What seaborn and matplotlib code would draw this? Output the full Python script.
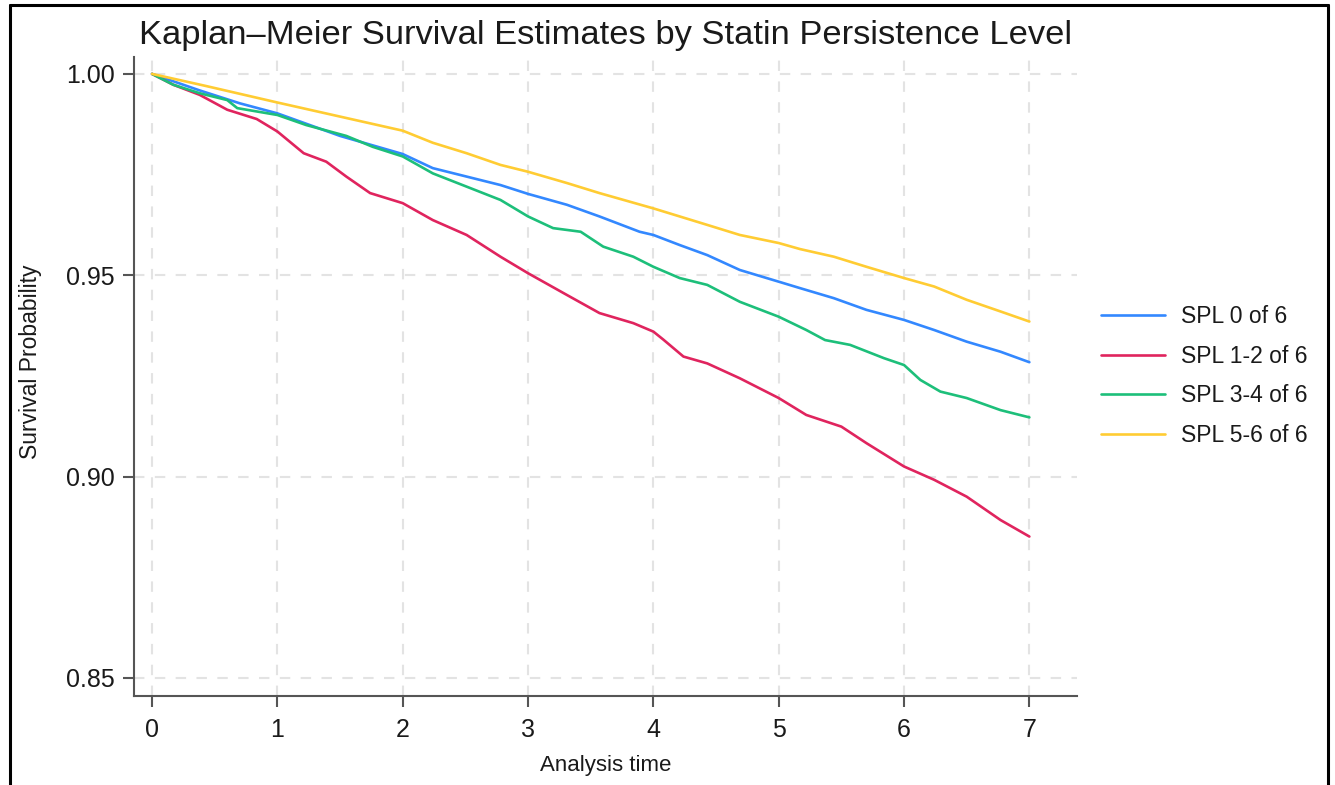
import matplotlib
matplotlib.use("Agg")
import matplotlib.pyplot as plt
from matplotlib.lines import Line2D
import seaborn as sns
import pandas as pd

# ---- data ----
groups = ["SPL 0 of 6", "SPL 1-2 of 6", "SPL 3-4 of 6", "SPL 5-6 of 6"]
colors = ["#3388FF", "#E0245E", "#1DBF7A", "#FFCC33"]

t_spl0 = [0, 0.38, 0.70, 1.0, 1.5, 2.0, 2.24, 2.51, 2.78, 3.0, 3.31, 3.57, 3.89, 4.0, 4.21,
          4.43, 4.69, 5.0, 5.17, 5.44, 5.7, 6.0, 6.24, 6.5, 6.77, 7.0]
s_spl0 = [1.0, 0.9959, 0.9927, 0.9902, 0.9846, 0.9801, 0.9766, 0.9745, 0.9724, 0.9702, 0.9675,
          0.9646, 0.9608, 0.9600, 0.9575, 0.9550, 0.9513, 0.9484, 0.9468, 0.9443, 0.9414,
          0.9389, 0.9364, 0.9335, 0.9310, 0.9284]

t_spl12 = [0, 0.17, 0.38, 0.60, 0.835, 1.0, 1.21, 1.39, 1.55, 1.74, 2.0, 2.24, 2.51, 2.78, 3.0,
           3.31, 3.57, 3.84, 4.0, 4.08, 4.24, 4.43, 4.69, 5.0, 5.22, 5.5, 5.7, 6.0, 6.24, 6.5,
           6.77, 7.0]
s_spl12 = [1.0, 0.9973, 0.9948, 0.9911, 0.9888, 0.9857, 0.9803, 0.9782, 0.9745, 0.9704, 0.9679,
           0.9637, 0.9600, 0.9546, 0.9505, 0.9451, 0.9406, 0.9381, 0.9360, 0.9340, 0.9298,
           0.9281, 0.9244, 0.9195, 0.9153, 0.9124, 0.9083, 0.9025, 0.8992, 0.8950, 0.8892,
           0.8851]

t_spl34 = [0, 0.17, 0.38, 0.60, 0.68, 1.0, 1.23, 1.55, 1.76, 2.0, 2.24, 2.51, 2.78, 3.0, 3.2,
           3.42, 3.6, 3.84, 4.0, 4.21, 4.43, 4.69, 5.0, 5.22, 5.37, 5.57, 5.84, 6.0, 6.13, 6.29,
           6.5, 6.77, 7.0]
s_spl34 = [1.0, 0.9973, 0.9952, 0.9935, 0.9915, 0.9898, 0.9873, 0.9846, 0.9819, 0.9795, 0.9753,
           0.9720, 0.9687, 0.9646, 0.9617, 0.9608, 0.9571, 0.9546, 0.9521, 0.9493, 0.9476,
           0.9434, 0.9397, 0.9364, 0.9339, 0.9327, 0.9294, 0.9277, 0.9240, 0.9211, 0.9195,
           0.9165, 0.9147]

t_spl56 = [0, 0.43, 1.0, 1.5, 2.0, 2.24, 2.51, 2.78, 3.0, 3.31, 3.57, 4.0, 4.21, 4.43, 4.69,
           5.0, 5.17, 5.44, 5.7, 6.0, 6.24, 6.5, 6.77, 7.0]
s_spl56 = [1.0, 0.9970, 0.9929, 0.9894, 0.9859, 0.9829, 0.9803, 0.9774, 0.9757, 0.9729, 0.9704,
           0.9666, 0.9646, 0.9625, 0.9600, 0.9580, 0.9565, 0.9546, 0.9521, 0.9493, 0.9472,
           0.9439, 0.9410, 0.9385]

x_ticks = [0, 1, 2, 3, 4, 5, 6, 7]
y_ticks = [0.85, 0.90, 0.95, 1.00]
y_ticklabels = ["0.85", "0.90", "0.95", "1.00"]

title = "Kaplan\u2013Meier Survival Estimates by Statin Persistence Level"
xlabel = "Analysis time"
ylabel = "Survival Probability"

# ---- build long-form table ----
frames = []
for g, t, s in zip(groups, [t_spl0, t_spl12, t_spl34, t_spl56],
                   [s_spl0, s_spl12, s_spl34, s_spl56]):
    frames.append(pd.DataFrame({"time": t, "surv": s, "group": g}))
df = pd.concat(frames, ignore_index=True)

sns.set_theme(style="white")
plt.rcParams["font.family"] = ["Liberation Sans", "DejaVu Sans"]
text_color = "#1a1a1a"

W, H = 1335, 785
fig = plt.figure(figsize=(W / 100, H / 100), dpi=100)
ax = fig.add_axes([134 / W, 1 - 696 / H, (1077 - 134) / W, (696 - 57) / H])

sns.lineplot(data=df, x="time", y="surv", hue="group", hue_order=groups,
             palette=dict(zip(groups, colors)), estimator=None, sort=False,
             linewidth=1.9, ax=ax, legend=False)

ax.set_xlim(-0.144, 7.38)
ax.set_ylim(0.8455, 1.0042)
ax.set_xticks(x_ticks)
ax.set_xticklabels([str(v) for v in x_ticks])
ax.set_yticks(y_ticks)
ax.set_yticklabels(y_ticklabels)

ax.grid(True, which="major", color="#e3e3e3", linestyle=(0, (5, 5)), linewidth=1.5)
ax.set_axisbelow(True)
for side in ["top", "right"]:
    ax.spines[side].set_visible(False)
for side in ["left", "bottom"]:
    ax.spines[side].set_color("#555555")
    ax.spines[side].set_linewidth(1.5)

ax.tick_params(axis="both", which="major", direction="out", length=8, width=1.5,
               color="#555555", labelsize=18, labelcolor=text_color, bottom=True, left=True)
ax.tick_params(axis="x", pad=8)
ax.tick_params(axis="y", pad=6)

ax.set_xlabel("")
ax.set_ylabel("")
fig.text(606 / W, 1 - 766 / H, xlabel, ha="center", va="center", fontsize=16,
         color=text_color)
fig.text(31 / W, 1 - 362 / H, ylabel, ha="center", va="center", rotation=90,
         fontsize=16.5, color=text_color)
fig.text(605.5 / W, 1 - 44 / H, title, ha="center", va="baseline", fontsize=24.8,
         color=text_color)

handles = [Line2D([0], [0], color=c, linewidth=1.9) for c in colors]
leg = ax.legend(handles, groups, loc="center left",
                bbox_to_anchor=(1101 / W, 1 - 376 / H), bbox_transform=fig.transFigure,
                frameon=False, fontsize=16.5, handlelength=2.8, handletextpad=0.7,
                labelspacing=0.72, borderpad=0, borderaxespad=0)
for txt in leg.get_texts():
    txt.set_color(text_color)

# outer frame around the figure
for (x0, y0, x1, y1) in [(10, 5, 1328, 5), (10, 5, 10, 800), (1328, 5, 1328, 800)]:
    fig.add_artist(Line2D([x0 / W, x1 / W], [1 - y0 / H, 1 - y1 / H],
                          transform=fig.transFigure, color="black", linewidth=2.2))

fig.savefig("out.png", dpi=100)
